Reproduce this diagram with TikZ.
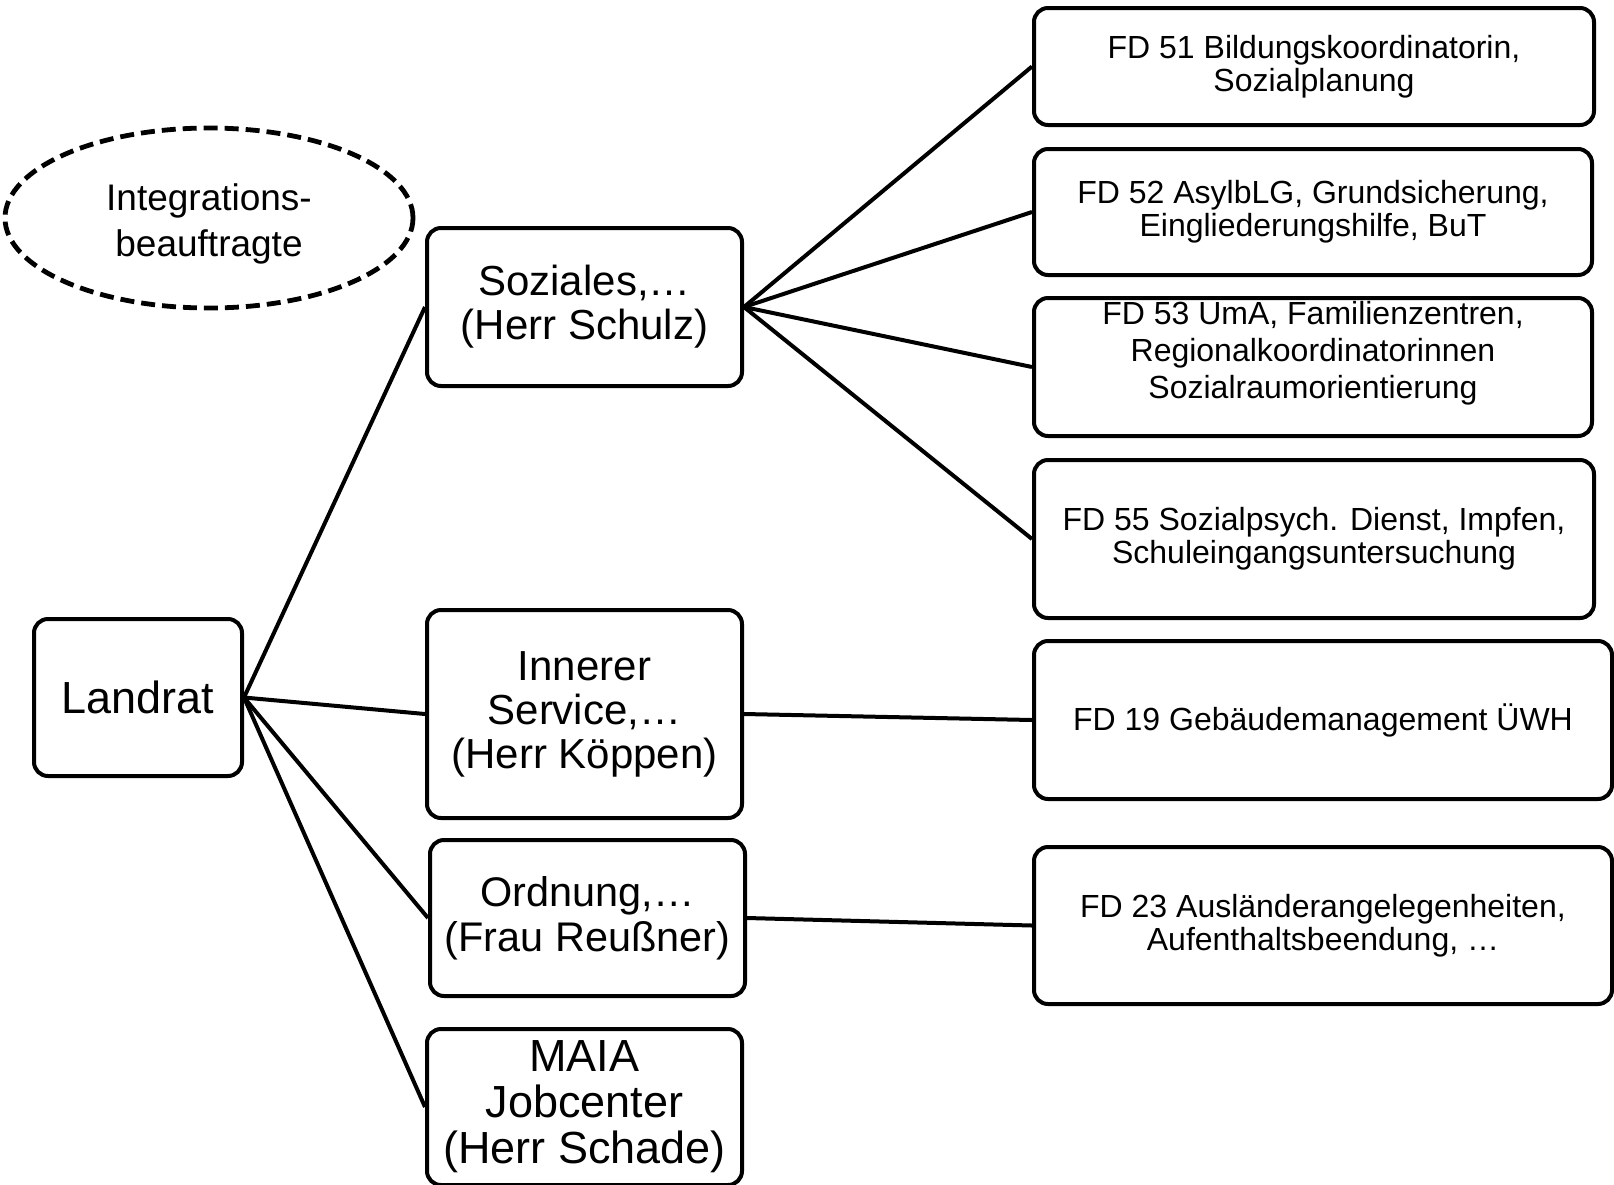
\documentclass[tikz,border=0pt]{standalone}
\usepackage{fontspec}
\setmainfont{Liberation Sans}
\usetikzlibrary{shapes.geometric}

\begin{document}
\begin{tikzpicture}[x=0.5pt, y=-0.5pt,
    box/.style={draw, line width=2pt, rounded corners=7pt, align=center, inner sep=0pt},
    chief/.style={box, minimum width=157.5pt, font=\fontsize{21}{22}\selectfont},
    fdbox/.style={box, minimum width=280pt, font=\fontsize{16}{16.5}\selectfont},
    link/.style={line width=2pt}]
    \useasboundingbox (0,0) rectangle (1614,1185);
    % the dashed one stands alone, nothing hangs on it
    \node[ellipse, draw, dashed, dash pattern=on 7pt off 3.5pt, line width=2.4pt,
          minimum width=204pt, minimum height=90pt, inner sep=0pt,
          label={[align=center, yshift=-3pt, font=\fontsize{18.5}{23}\selectfont]center:{Integrations-\\beauftragte}}] (integ) at (209,218) {};
    \node[box, minimum width=104pt, minimum height=78.5pt, font=\fontsize{22.5}{23}\selectfont] (land) at (138,697.5) {Landrat};
    % second column
    \node[chief, minimum height=79pt] (soz) at (584.5,307) {Soziales,…\\(Herr Schulz)};
    \node[chief, minimum height=104pt] (inn) at (584.5,714) {Innerer\\Service,…\\(Herr Köppen)};
    \node[chief, minimum height=78pt, font=\fontsize{20.7}{22.5}\selectfont] (ord) at (587.5,918) {Ordnung,…\\(Frau Reußner)};
    \node[chief, minimum height=78pt, font=\fontsize{22.5}{23}\selectfont] (maia) at (584.5,1107) {MAIA\\Jobcenter\\(Herr Schade)};
    % FD boxes
    \node[fdbox, minimum height=58.5pt] (fd51) at (1314,66.5) {FD 51 Bildungskoordinatorin,\\Sozialplanung};
    \node[fdbox, minimum width=279pt, minimum height=63pt] (fd52) at (1313,212) {FD 52 AsylbLG, Grundsicherung,\\Eingliederungshilfe, BuT};
    \node[fdbox, minimum width=279pt, minimum height=69pt,
          label={[align=center, yshift=7pt, font=\fontsize{16}{18.5}\selectfont]center:{FD 53 UmA, Familienzentren,\\Regionalkoordinatorinnen\\Sozialraumorientierung}}] (fd53) at (1313,367) {};
    \node[fdbox, minimum height=79pt] (fd55) at (1314,539) {FD 55 Sozialpsych. Dienst, Impfen,\\Schuleingangsuntersuchung};
    \node[fdbox, minimum width=289pt, minimum height=79pt] (fd19) at (1323,720) {FD 19 Gebäudemanagement ÜWH};
    \node[fdbox, minimum width=289pt, minimum height=78.5pt] (fd23) at (1323,925.5) {FD 23 Ausländerangelegenheiten,\\Aufenthaltsbeendung, …};
    \foreach \t in {soz,inn,ord,maia}
        \draw[link] (land.east) -- (\t.west);
    \foreach \t in {fd51,fd52,fd53,fd55}
        \draw[link] (soz.east) -- (\t.west);
    \draw[link] (inn.east) -- (fd19.west);
    \draw[link] (ord.east) -- (fd23.west);
\end{tikzpicture}
\end{document}
